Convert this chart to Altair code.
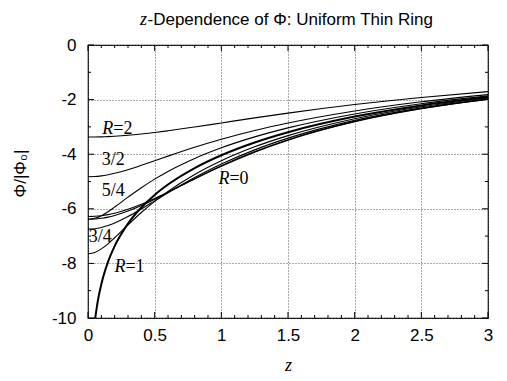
import altair as alt
import pandas as pd

SANS = "Liberation Sans"
SERIF = "Liberation Serif"

# z grid used for the curves
Z = [0, 0.05, 0.1, 0.15, 0.2, 0.3, 0.4, 0.5, 0.6, 0.8, 1.0, 1.25, 1.5, 2.0, 2.5, 3.0]
Z_R1 = [0.05, 0.075, 0.1, 0.15, 0.2, 0.3, 0.4, 0.5, 0.6, 0.8, 1.0, 1.25, 1.5, 2.0, 2.5, 3.0]

phi_R0 = [-6.283, -6.275, -6.252, -6.214, -6.161, -6.018, -5.834, -5.620, -5.388, -4.906, -4.443, -3.925, -3.485, -2.810, -2.334, -1.987]
phi_R14 = [-6.385, -6.376, -6.349, -6.305, -6.245, -6.084, -5.879, -5.647, -5.399, -4.897, -4.425, -3.905, -3.467, -2.798, -2.326, -1.982]
phi_R12 = [-6.743, -6.728, -6.685, -6.615, -6.522, -6.286, -6.006, -5.710, -5.414, -4.856, -4.363, -3.842, -3.412, -2.761, -2.302, -1.966]
phi_R34 = [-7.644, -7.598, -7.469, -7.282, -7.060, -6.588, -6.136, -5.726, -5.361, -4.742, -4.240, -3.731, -3.320, -2.702, -2.264, -1.941]
phi_R1 = [-10.149, -9.337, -8.760, -7.945, -7.364, -6.541, -5.952, -5.491, -5.112, -4.508, -4.038, -3.569, -3.193, -2.622, -2.212, -1.906]
phi_R54 = [-6.385, -6.349, -6.251, -6.106, -5.936, -5.573, -5.226, -4.912, -4.631, -4.155, -3.765, -3.365, -3.035, -2.525, -2.150, -1.864]
phi_R32 = [-4.824, -4.817, -4.793, -4.753, -4.701, -4.567, -4.408, -4.240, -4.070, -3.746, -3.454, -3.134, -2.859, -2.416, -2.079, -1.816]
phi_R2 = [-3.372, -3.370, -3.364, -3.355, -3.342, -3.308, -3.261, -3.206, -3.143, -3.003, -2.855, -2.671, -2.495, -2.182, -1.921, -1.706]

curve_names = ["0", "1/4", "1/2", "3/4", "1", "5/4", "3/2", "2"]
curve_z = [Z, Z, Z, Z, Z_R1, Z, Z, Z]
curve_phi = [phi_R0, phi_R14, phi_R12, phi_R34, phi_R1, phi_R54, phi_R32, phi_R2]

# curve labels
lab_prefix = ["R", "", "", "", "R", "R"]
lab_text = ["=2", "3/2", "5/4", "3/4", "=1", "=0"]
lab_z = [0.19, 0.103, 0.103, 0.005, 0.281, 1.061]
lab_phi = [-3.07, -4.22, -5.34, -7.02, -8.12, -4.92]

# axis ticks
x_major = [0, 0.5, 1, 1.5, 2, 2.5, 3]
x_minor = [0.1, 0.2, 0.3, 0.4, 0.6, 0.7, 0.8, 0.9, 1.1, 1.2, 1.3, 1.4, 1.6, 1.7, 1.8, 1.9,
           2.1, 2.2, 2.3, 2.4, 2.6, 2.7, 2.8, 2.9]
y_major = [0, -2, -4, -6, -8, -10]
y_minor = [-1, -3, -5, -7, -9]

rows = []
for name, zs, ps in zip(curve_names, curve_z, curve_phi):
    for z, p in zip(zs, ps):
        rows.append({"R": name, "z": z, "phi": p})
df = pd.DataFrame(rows)

W, H = 400, 273

xs = alt.Scale(domain=[0, 3], nice=False, zero=False)
ys = alt.Scale(domain=[-10, 0], nice=False, zero=False)

xaxis = alt.Axis(values=x_major, labelExpr="'' + datum.value", grid=True, gridDash=[1, 2],
                 gridColor="#555555", gridWidth=1, ticks=False, tickSize=0, domain=False,
                 labelFont=SANS, labelFontSize=17, labelColor="black", labelPadding=9,
                 labelFlush=False, labelOverlap=False,
                 title="z", titleFont=SERIF, titleFontStyle="italic", titleFontWeight="normal",
                 titleFontSize=18, titleColor="black", titleX=200, titleY=47,
                 titleBaseline="middle", titleAlign="center")
yaxis = alt.Axis(values=y_major, labelExpr="'' + datum.value", grid=True, gridDash=[1, 2],
                 gridColor="#555555", gridWidth=1, ticks=False, tickSize=0, domain=False,
                 labelFont=SANS, labelFontSize=17, labelColor="black", labelPadding=12,
                 labelFlush=False, labelOverlap=False, labelBaseline="middle",
                 title="Φ/|Φ₀|", titleFont=SANS, titleFontWeight="normal", titleFontSize=17,
                 titleColor="black", titleX=-68, titleY=128, titleAngle=270,
                 titleBaseline="middle", titleAlign="center")

X = lambda f: alt.X(f, type="quantitative", scale=xs, axis=xaxis)
Y = lambda f: alt.Y(f, type="quantitative", scale=ys, axis=yaxis)

thin = alt.Chart(df).transform_filter("datum.R != '1'").mark_line(
    color="black", strokeWidth=1.1, interpolate="monotone", clip=True
).encode(x=X("z"), y=Y("phi"), detail="R:N")

thick = alt.Chart(df).transform_filter("datum.R == '1'").mark_line(
    color="black", strokeWidth=2.0, interpolate="monotone", clip=True
).encode(x=X("z"), y=Y("phi"), detail="R:N")

lab_df = pd.DataFrame({"pre": lab_prefix, "txt": lab_text, "z": lab_z, "phi": lab_phi})
lab_pre = alt.Chart(lab_df).mark_text(font=SERIF, fontStyle="italic", fontSize=18, align="right",
                                      baseline="middle", color="black").encode(
    x=X("z"), y=Y("phi"), text="pre:N")
lab_txt = alt.Chart(lab_df).mark_text(font=SERIF, fontSize=18, align="left",
                                      baseline="middle", color="black").encode(
    x=X("z"), y=Y("phi"), text="txt:N")

# inward ticks on all four sides
xmaj = pd.DataFrame({"v": x_major})
xmin = pd.DataFrame({"v": x_minor})
ymaj = pd.DataFrame({"v": y_major})
ymin = pd.DataFrame({"v": y_minor})

def xticks(d, L):
    b = alt.Chart(d).mark_rule(color="black", strokeWidth=1).encode(
        x=X("v"), y=alt.value(H), y2=alt.value(H - L))
    t = alt.Chart(d).mark_rule(color="black", strokeWidth=1).encode(
        x=X("v"), y=alt.value(0), y2=alt.value(L))
    return [b, t]

def yticks(d, L):
    l = alt.Chart(d).mark_rule(color="black", strokeWidth=1).encode(
        y=Y("v"), x=alt.value(0), x2=alt.value(L))
    r = alt.Chart(d).mark_rule(color="black", strokeWidth=1).encode(
        y=Y("v"), x=alt.value(W), x2=alt.value(W - L))
    return [l, r]

ticks = xticks(xmaj, 6) + xticks(xmin, 3) + yticks(ymaj, 6) + yticks(ymin, 3)

title_z = alt.Chart(pd.DataFrame({"t": ["z"]})).mark_text(
    font=SERIF, fontStyle="italic", fontSize=18, align="left", baseline="alphabetic",
    color="black").encode(x=alt.value(52), y=alt.value(-20.5), text="t:N")
title_rest = alt.Chart(pd.DataFrame({"t": ["-Dependence of Φ: Uniform Thin Ring"]})).mark_text(
    font=SANS, fontSize=17, align="left", baseline="alphabetic",
    color="black").encode(x=alt.value(59.5), y=alt.value(-20.5), text="t:N")

chart = alt.layer(thin, thick, lab_pre, lab_txt, *ticks, title_z, title_rest).properties(
    width=W, height=H,
    autosize=alt.AutoSizeParams(type="none"),
    padding={"left": 80, "top": 37, "right": 11, "bottom": 55},
    background="white",
).configure_view(stroke="black", strokeWidth=1.2)

chart.save("out.html", embed_options={"renderer": "svg", "actions": False})
